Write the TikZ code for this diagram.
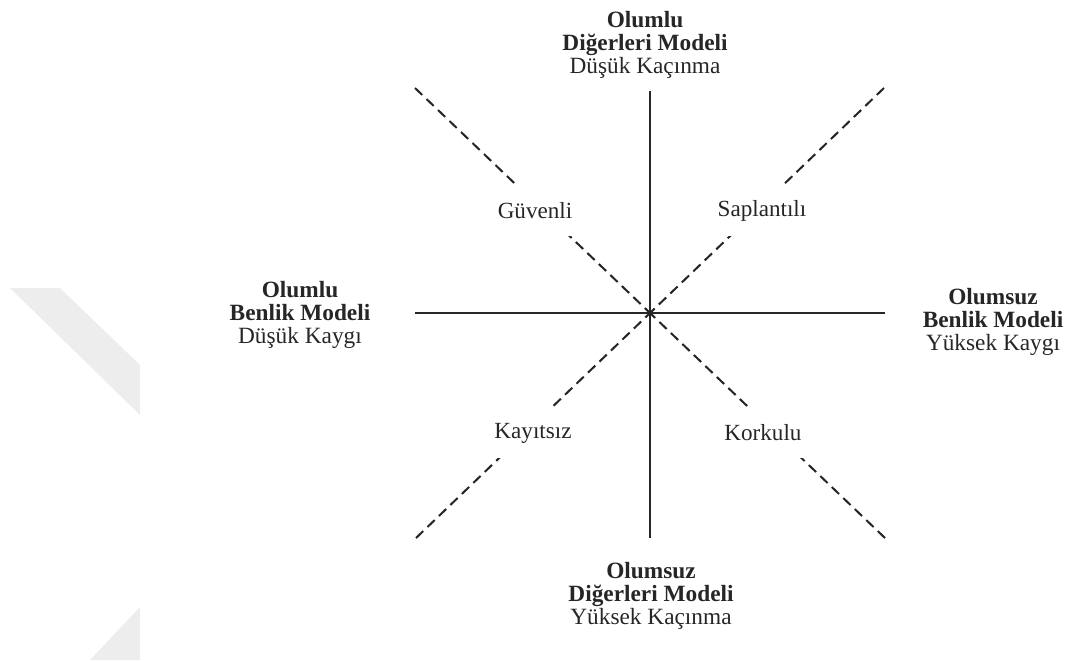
\documentclass[tikz,border=0pt]{standalone}
\usepackage{fontspec}
\setmainfont{Liberation Serif}
\begin{document}
\begin{tikzpicture}[x=0.019cm,y=-0.019cm,
  axisline/.style={line width=1.1pt,black!85},
  diagline/.style={line width=1.1pt,black!85,dash pattern=on 5.4pt off 3.2pt},
  polelabel/.style={align=center,font=\fontsize{12.6}{12.6}\selectfont,text=black!85},
  typelabel/.style={fill=white,inner xsep=2pt,minimum height=27pt,font=\fontsize{12.5}{14}\selectfont,text=black!85}]
\useasboundingbox (0,0) rectangle (1067,660);
\fill[black!7] (10,288) -- (60,288) -- (140,365) -- (140,415) -- cycle;
\fill[black!7] (90,660) -- (140,607) -- (140,660) -- cycle;

\coordinate (c) at (650,313);
\coordinate (n) at (650,91);
\coordinate (s) at (650,538);
\coordinate (w) at (415,313);
\coordinate (e) at (885,313);
\coordinate (nw) at (415,88);
\coordinate (ne) at (884,88);
\coordinate (sw) at (416,538);
\coordinate (se) at (885,538);

\draw[axisline] (n) -- (s);
\draw[axisline] (w) -- (e);
\draw[diagline] (nw) -- (c);
\draw[diagline] (ne) -- (c);
\draw[diagline] (sw) -- (c);
\draw[diagline] (se) -- (c);

\node[typelabel] (guvenli) at (535,211) {Güvenli};
\node[typelabel] (saplantili) at (762,211) {Saplantılı};
\node[typelabel] (kayitsiz) at (533,433) {Kayıtsız};
\node[typelabel] (korkulu) at (763,433) {Korkulu};

\node[polelabel] (olumludiger) at (645,45) {\textbf{Olumlu}\\\textbf{Diğerleri Modeli}\\Düşük Kaçınma};
\node[polelabel] (olumsuzdiger) at (651,596) {\textbf{Olumsuz}\\\textbf{Diğerleri Modeli}\\Yüksek Kaçınma};
\node[polelabel] (olumlubenlik) at (300,315) {\textbf{Olumlu}\\\textbf{Benlik Modeli}\\Düşük Kaygı};
\node[polelabel] (olumsuzbenlik) at (993,322) {\textbf{Olumsuz}\\\textbf{Benlik Modeli}\\Yüksek Kaygı};
\end{tikzpicture}
\end{document}
